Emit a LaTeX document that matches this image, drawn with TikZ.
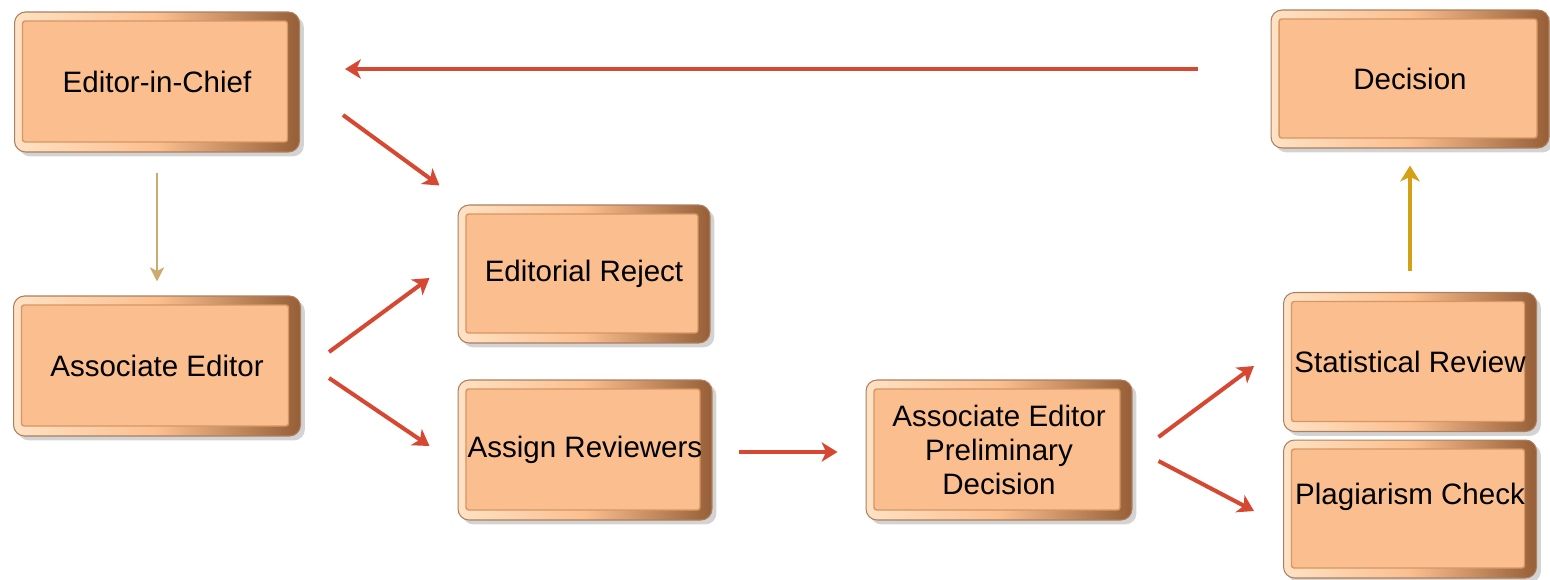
\documentclass[tikz,border=0pt]{standalone}
\usepackage{fontspec}
\setmainfont{Liberation Sans}
\usepackage{tikz}
\usetikzlibrary{arrows.meta, positioning, shadows}
\usepackage{xcolor}
\definecolor{boxfill}{RGB}{251, 191, 143}
\definecolor{boxlight}{RGB}{254, 226, 196}
\definecolor{boxdark}{RGB}{150, 95, 55}
\definecolor{boxline}{RGB}{215, 150, 100}
\definecolor{flowred}{RGB}{214, 72, 50}
\definecolor{flowtan}{RGB}{205, 170, 110}
\definecolor{flowgold}{RGB}{212, 160, 20}

\begin{document}
\begin{tikzpicture}[x=0.02cm, y=-0.02cm,
				stagebox/.style={rectangle, rounded corners=0.22cm, inner sep=0pt,
					left color=boxlight, right color=boxdark, middle color=boxfill,
					draw=boxdark!80, line width=0.6pt, align=center,
					font=\fontsize{16.8}{19.6}\selectfont,
					drop shadow={shadow xshift=2.5pt, shadow yshift=-2.5pt, opacity=0.35},
					path picture={\draw[boxline, fill=boxfill, line width=0.8pt, rounded corners=1.5pt]
						([shift={(0.16cm,-0.18cm)}]path picture bounding box.north west) rectangle
						([shift={(-0.24cm,0.2cm)}]path picture bounding box.south east);}},
				fr/.style={-{Stealth[length=9pt, width=11pt, inset=2.5pt]}, flowred, line width=2.3pt},
				ft/.style={-{Stealth[length=8pt, width=8pt, inset=2pt]}, flowtan, line width=1.6pt},
				fg/.style={-{Stealth[length=9pt, width=11pt, inset=2.5pt]}, flowgold, line width=2.6pt}]
				\useasboundingbox (0,0) rectangle (1550,579);
				
				%--- Boxes ---
				\node[stagebox, minimum width=5.7cm, minimum height=2.8cm] (eic) at (157,82) {Editor-in-Chief};
				\node[stagebox, minimum width=5.56cm, minimum height=2.76cm] (dec) at (1410,79) {Decision};
				\node[stagebox, minimum width=5.04cm, minimum height=2.76cm] (rej) at (584,274) {Editorial Reject};
				\node[stagebox, minimum width=5.74cm, minimum height=2.8cm] (ae) at (157,366) {Associate Editor};
				\node[stagebox, minimum width=5.08cm, minimum height=2.8cm] (asg) at (585,450) {Assign Reviewers};
				\node[stagebox, minimum width=5.32cm, minimum height=2.8cm] (pre) at (999,450)
				{Associate Editor\\Preliminary\\Decision};
				\node[stagebox, minimum width=5.06cm, minimum height=2.78cm] (stat) at (1410,362) {Statistical Review};
				\node[stagebox, minimum width=5.06cm, minimum height=2.76cm, text depth=0.62cm] (plag) at (1410,509)
				{Plagiarism Check};
				
				%--- Connectors ---
				\draw[fr] ([shift={(-73,-10)}]dec.west) -- ([shift={(45,-13)}]eic.east);
				\draw[fr] ([shift={(43,33)}]eic.east) -- ([shift={(-18,-19)}]rej.north west);
				\draw[ft] ([shift={(0,20)}]eic.south) -- ([shift={(0,-14)}]ae.north);
				\draw[fr] ([shift={(28,-14)}]ae.east) -- ([shift={(-28,4)}]rej.west);
				\draw[fr] ([shift={(28,12)}]ae.east) -- ([shift={(-28,-4)}]asg.west);
				\draw[fr] ([shift={(26,2)}]asg.east) -- ([shift={(-28,2)}]pre.west);
				\draw[fr] ([shift={(26,-13)}]pre.east) -- ([shift={(-29,4)}]stat.west);
				\draw[fr] ([shift={(26,11)}]pre.east) -- ([shift={(-29,2)}]plag.west);
				\draw[fg] ([shift={(0,-21)}]stat.north) -- ([shift={(0,17)}]dec.south);
			\end{tikzpicture}
\end{document}
